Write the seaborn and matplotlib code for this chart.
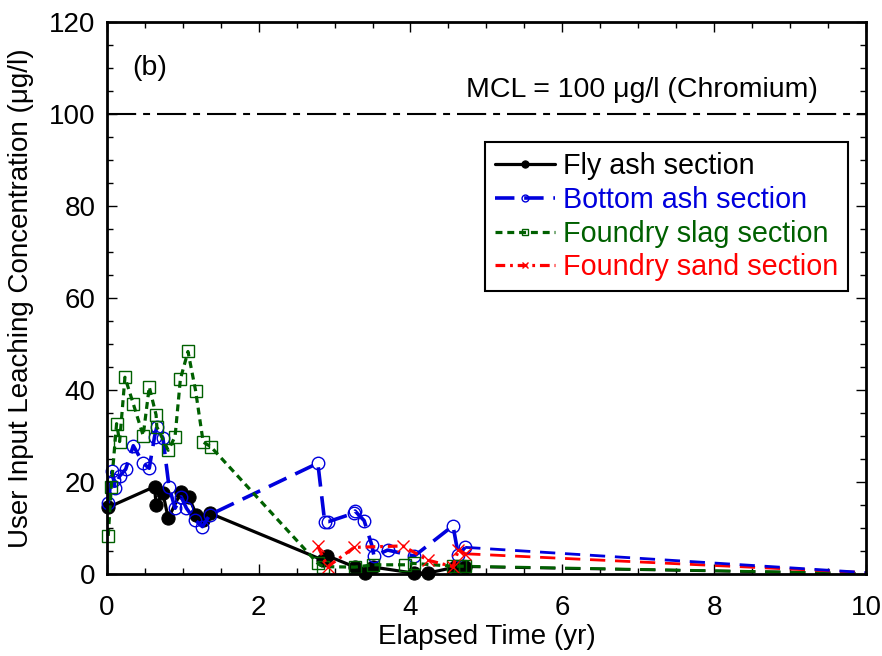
import numpy as np
import pandas as pd
import matplotlib
matplotlib.use('Agg')
import matplotlib.pyplot as plt
from matplotlib.ticker import MultipleLocator
import seaborn as sns

# Data (time in yr, concentration in ug/l)
fly_t = [0.02, 0.63, 0.65, 0.74, 0.81, 0.98, 1.08, 1.18, 1.27, 1.36,
         2.85, 2.90, 3.27, 3.40, 3.51, 4.04, 4.23, 4.59, 4.72]
fly_c = [14.5, 19.0, 15.0, 17.6, 12.1, 17.9, 16.8, 12.9, 11.8, 13.2,
         3.0, 4.0, 1.5, 0.3, 1.5, 0.2, 0.2, 1.5, 1.6]

bottom_t = [0.02, 0.07, 0.09, 0.11, 0.17, 0.25, 0.35, 0.48, 0.56, 0.63, 0.66,
            0.74, 0.82, 0.90, 0.98, 1.05, 1.16, 1.26, 1.36, 2.78, 2.87, 2.92,
            3.25, 3.27, 3.39, 3.49, 3.52, 3.70, 4.05, 4.56, 4.63, 4.72]
bottom_c = [15.4, 22.3, 20.5, 18.7, 21.3, 22.8, 27.9, 24.1, 23.0, 29.9, 32.0,
            29.6, 19.0, 14.3, 16.8, 14.3, 11.8, 10.3, 12.9, 24.1, 11.4, 11.4,
            13.2, 13.7, 11.6, 6.3, 3.9, 5.2, 3.9, 10.5, 4.1, 5.8]

slag_t = [0.02, 0.06, 0.13, 0.17, 0.24, 0.35, 0.48, 0.56, 0.65, 0.66, 0.81,
          0.90, 0.97, 1.07, 1.17, 1.27, 1.37, 2.78, 2.85, 3.27, 3.51, 3.93,
          4.04, 4.56, 4.65, 4.72]
slag_c = [8.3, 19.0, 32.7, 28.8, 42.8, 37.0, 30.1, 40.7, 34.6, 32.0, 26.9,
          29.9, 42.4, 48.4, 39.9, 28.7, 27.7, 2.3, 1.6, 1.5, 2.0, 2.0,
          2.3, 1.7, 1.7, 1.7]

sand_t = [2.78, 2.91, 3.26, 3.90, 4.23, 4.56, 4.63, 4.72]
sand_c = [6.0, 1.6, 5.8, 6.1, 3.0, 1.6, 5.2, 4.4]

# extrapolated tails out to 10 yr
tail_t = [4.72, 10.0]
fly_tail = [1.6, 0.1]
bottom_tail = [5.8, 0.3]
slag_tail = [1.7, 0.1]
sand_tail = [4.4, 0.3]

mcl = 100

sns.set_style('ticks')
plt.rcParams['font.family'] = ['Liberation Sans', 'DejaVu Sans']
plt.rcParams['lines.scale_dashes'] = False
plt.rcParams['text.color'] = 'black'
plt.rcParams['axes.labelcolor'] = 'black'

fig = plt.figure(figsize=(8.82, 6.56), dpi=100)
ax = fig.add_axes([0.121, 0.125, 0.861, 0.841])

blue = '#0000dd'
green = '#006000'
red = '#ff0000'

# tails (dashed, no markers)
for tail, col in [(fly_tail, 'black'), (slag_tail, green),
                  (sand_tail, red), (bottom_tail, blue)]:
    sns.lineplot(x=tail_t, y=tail, ax=ax, color=col, lw=2,
                 linestyle=(0, (11, 7)), sort=False, estimator=None)

sns.lineplot(x=fly_t, y=fly_c, ax=ax, color='black', lw=2.3, marker='o',
             markersize=9.5, markeredgecolor='black', sort=False, estimator=None,
             clip_on=False, label='Fly ash section')
sns.lineplot(x=bottom_t, y=bottom_c, ax=ax, color=blue, lw=2.6,
             linestyle=(0, (14, 7)), marker='o', markersize=9,
             markerfacecolor='none', markeredgecolor=blue, markeredgewidth=1,
             sort=False, estimator=None, clip_on=False,
             label='Bottom ash section')
sns.lineplot(x=slag_t, y=slag_c, ax=ax, color=green, lw=2.3,
             linestyle=(0, (5, 3.5)), marker='s', markersize=8,
             markerfacecolor='none', markeredgecolor=green, markeredgewidth=1,
             sort=False, estimator=None, clip_on=False,
             label='Foundry slag section')
sns.lineplot(x=sand_t, y=sand_c, ax=ax, color=red, lw=2.3,
             linestyle=(0, (7, 3.5, 2, 3.5)), marker='x', markersize=9,
             markeredgecolor=red, markeredgewidth=1,
             sort=False, estimator=None, label='Foundry sand section')

# MCL line
ax.axhline(mcl, color='black', lw=1.5, linestyle=(0, (21, 5, 5, 5)))
ax.text(0.937, 0.877, 'MCL = 100 \u03bcg/l (Chromium)', transform=ax.transAxes,
        ha='right', va='center', fontsize=20.5)
ax.text(0.034, 0.918, '(b)', transform=ax.transAxes, ha='left', va='center',
        fontsize=20.5)

ax.set_xlim(0, 10)
ax.set_ylim(0, 120)
ax.xaxis.set_major_locator(MultipleLocator(2))
ax.xaxis.set_minor_locator(MultipleLocator(0.5))
ax.yaxis.set_major_locator(MultipleLocator(20))
ax.yaxis.set_minor_locator(MultipleLocator(5))
ax.tick_params(which='both', direction='in', top=True, right=True,
               colors='black', labelsize=20)
ax.tick_params(which='major', length=7, width=1)
ax.tick_params(which='minor', length=4, width=1)
ax.tick_params(axis='x', pad=15)
ax.tick_params(axis='y', pad=8)
for sp in ax.spines.values():
    sp.set_linewidth(2)
    sp.set_color('black')

ax.set_xlabel('Elapsed Time (yr)', fontsize=20, labelpad=2)
ax.set_ylabel('User Input Leaching Concentration (\u03bcg/l)', fontsize=20,
              labelpad=11)

leg = ax.legend(loc='upper right', bbox_to_anchor=(0.976, 0.783),
                borderaxespad=0, fontsize=20.7, markerscale=0.55,
                handlelength=2.1, labelspacing=0.2, borderpad=0.35,
                handletextpad=0.25, fancybox=False, framealpha=1,
                edgecolor='black', labelcolor='linecolor')
leg.get_frame().set_linewidth(1.5)

fig.savefig('out.png', dpi=100)
